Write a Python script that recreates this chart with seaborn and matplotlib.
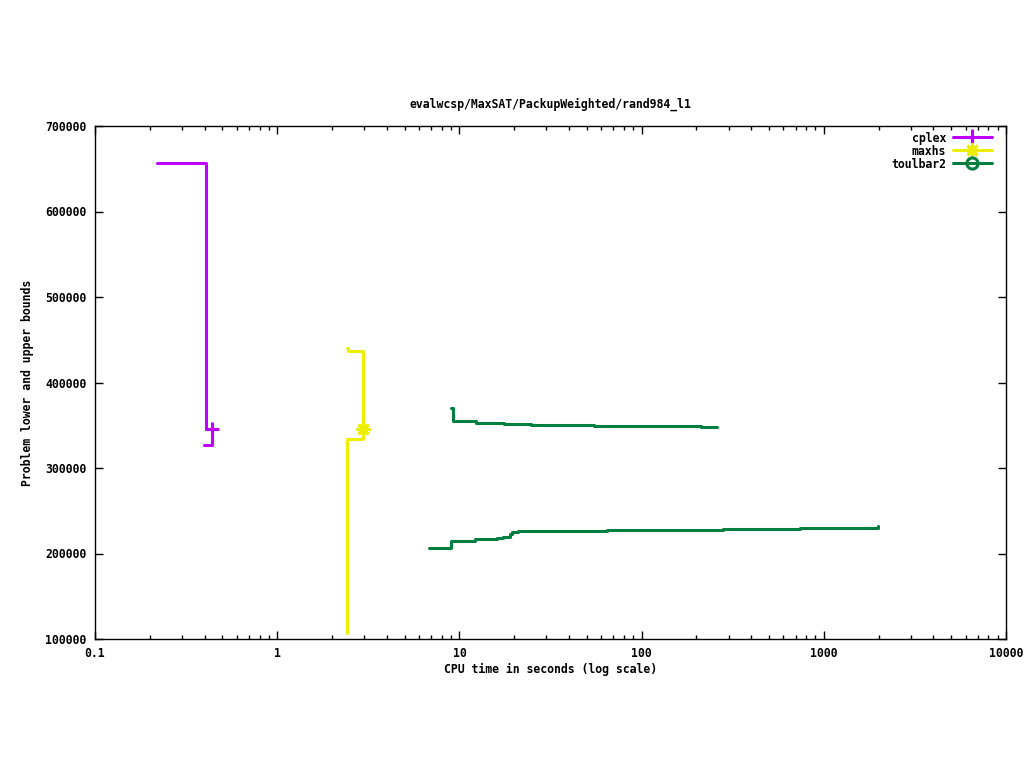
import matplotlib
matplotlib.use("Agg")
import matplotlib.pyplot as plt
from matplotlib.lines import Line2D
from matplotlib.ticker import LogLocator, FixedLocator, NullFormatter, FuncFormatter
import seaborn as sns
import pandas as pd

# ---- data ----
title = "evalwcsp/MaxSAT/PackupWeighted/rand984_l1"
solvers = ["cplex", "maxhs", "toulbar2"]
colors = {"cplex": "#c000ff", "maxhs": "#eeee00", "toulbar2": "#008040"}

cplex_ub_t = [0.219, 0.406, 0.438]
cplex_ub_v = [656700, 345600, 345600]
cplex_lb_t = [0.396, 0.438]
cplex_lb_v = [326900, 345600]

maxhs_ub_t = [2.42, 2.45, 2.96]
maxhs_ub_v = [440000, 436800, 345600]
maxhs_lb_t = [2.42, 2.425, 2.96]
maxhs_lb_v = [107000, 333900, 345600]

tb2_ub_t = [9.0, 9.22, 12.3, 17.6, 24.7, 54.8, 211.8, 259]
tb2_ub_v = [370200, 355000, 352600, 351500, 350300, 349100, 348000, 347500]
tb2_lb_t = [6.81, 9.0, 12.2, 16.1, 17.3, 18.9, 19.4, 21.0, 64.6, 280, 740, 1982]
tb2_lb_v = [206400, 214600, 217000, 218100, 219300, 222800, 225100, 226300,
            227500, 228700, 229800, 232200]

# optimum markers (final points)
opt_solver = ["cplex", "maxhs"]
opt_t = [0.438, 2.96]
opt_v = [345600, 345600]

yticks = [100000, 200000, 300000, 400000, 500000, 600000, 700000]
xticks = [0.1, 1, 10, 100, 1000, 10000]
xticklabels = ["0.1", "1", "10", "100", "1000", "10000"]

rows = []
for s, b, ts, vs in [("cplex", "ub", cplex_ub_t, cplex_ub_v),
                     ("cplex", "lb", cplex_lb_t, cplex_lb_v),
                     ("maxhs", "ub", maxhs_ub_t, maxhs_ub_v),
                     ("maxhs", "lb", maxhs_lb_t, maxhs_lb_v),
                     ("toulbar2", "ub", tb2_ub_t, tb2_ub_v),
                     ("toulbar2", "lb", tb2_lb_t, tb2_lb_v)]:
    for t, v in zip(ts, vs):
        rows.append({"solver": s, "bound": s + b, "time": t, "value": v})
df = pd.DataFrame(rows)
opt_df = pd.DataFrame({"solver": opt_solver, "time": opt_t, "value": opt_v})

sns.set_theme(style="ticks")
plt.rcParams["font.family"] = ["DejaVu Sans Mono"]
plt.rcParams["font.weight"] = "bold"
plt.rcParams["font.size"] = 8.3
for k in ["text.color", "axes.labelcolor", "xtick.color", "ytick.color", "axes.edgecolor"]:
    plt.rcParams[k] = "black"

FS = 8.3
fig = plt.figure(figsize=(10.24, 7.68), dpi=100)
ax = fig.add_axes([95 / 1024, 1 - 639 / 768, 911 / 1024, 513 / 768])

sns.lineplot(data=df, x="time", y="value", hue="solver", units="bound",
             estimator=None, palette=colors, drawstyle="steps-post",
             linewidth=2.2, legend=False, ax=ax, sort=False)

markers = {"cplex": "+", "maxhs": (8, 2, 0)}
for _, r in opt_df.iterrows():
    ax.plot([r["time"]], [r["value"]], marker=markers[r["solver"]],
            color=colors[r["solver"]], markersize=10, mew=2.2, linestyle="none")

ax.set_xscale("log")
ax.set_xlim(0.1, 10000)
ax.set_ylim(100000, 700000)
ax.xaxis.set_major_locator(FixedLocator(xticks))
ax.xaxis.set_major_formatter(FuncFormatter(lambda v, p: xticklabels[xticks.index(v)] if v in xticks else ""))
ax.xaxis.set_minor_locator(LogLocator(base=10, subs=(2, 3, 4, 5, 6, 7, 8, 9), numticks=20))
ax.xaxis.set_minor_formatter(NullFormatter())
ax.set_yticks(yticks)
ax.set_yticklabels([str(v) for v in yticks])

for sp in ax.spines.values():
    sp.set_visible(True)
    sp.set_linewidth(1.0)
    sp.set_color("black")
ax.tick_params(which="major", direction="in", length=6, width=1, top=True, right=True,
               colors="black", labelsize=FS, pad=6)
ax.tick_params(which="minor", direction="in", length=3, width=1, top=True, right=True)
ax.tick_params(axis="y", pad=6)
for lab in ax.get_xticklabels() + ax.get_yticklabels():
    lab.set_fontweight("bold")

ax.set_xlabel("CPU time in seconds (log scale)", fontsize=FS, fontweight="bold", labelpad=2)
ax.set_ylabel("Problem lower and upper bounds", fontsize=FS, fontweight="bold", labelpad=8)
ax.set_title(title, fontsize=FS, fontweight="bold", pad=13)

handles = [
    Line2D([], [], color=colors["cplex"], lw=2.2, marker="+", markersize=11, mew=2.2),
    Line2D([], [], color=colors["maxhs"], lw=2.2, marker=(8, 2, 0), markersize=10, mew=2.2),
    Line2D([], [], color=colors["toulbar2"], lw=2.2, marker="o", markersize=8, mew=2.2,
           markerfacecolor="none"),
]
leg = ax.legend(handles, solvers, loc="upper right", frameon=False, markerfirst=False,
                handlelength=3.4, labelspacing=0.0, handletextpad=0.6,
                bbox_to_anchor=(0.9935, 1.005), borderaxespad=0.3,
                prop={"weight": "bold", "size": FS})
for t in leg.get_texts():
    t.set_color("black")

fig.savefig("out.png", dpi=100, facecolor="white")
